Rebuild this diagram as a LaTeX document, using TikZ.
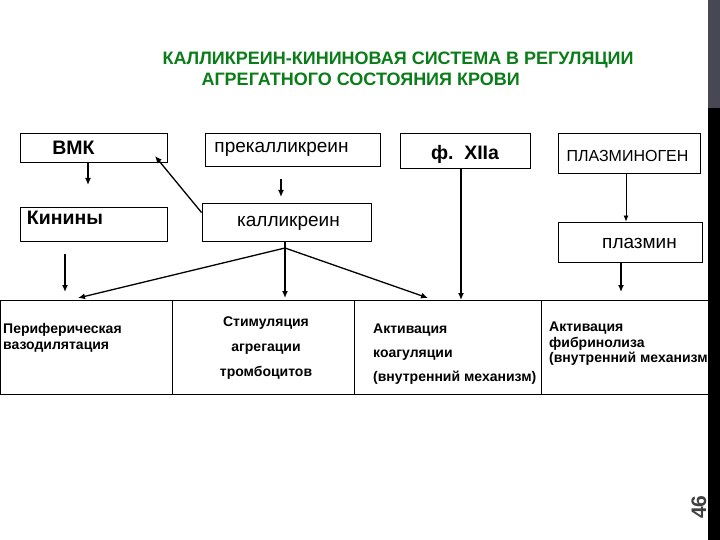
\documentclass[tikz,border=0pt]{standalone}
\usepackage{fontspec}
\setmainfont{Liberation Sans}
\usetikzlibrary{arrows.meta,positioning,calc}
\definecolor{titlegreen}{RGB}{10,125,25}
\definecolor{stripgray}{RGB}{72,72,84}

\begin{document}
\begin{tikzpicture}[x=1pt,y=-1pt,
  box/.style={draw,line width=0.8pt,inner sep=0pt},
  arr/.style={-{Latex[length=7pt,width=6pt]},line width=1.3pt},
  bigtxt/.style={font=\fontsize{19}{22}\selectfont},
  boldtxt/.style={font=\bfseries\fontsize{19.5}{22}\selectfont},
  cell/.style={font=\bfseries\fontsize{14}{16}\selectfont,inner sep=0pt}]
\useasboundingbox (0,0) rectangle (720,540);
\fill[stripgray] (708,0) rectangle (720,108);
\fill[black] (708,108) rectangle (720,540);
\node[rotate=90,font=\bfseries\fontsize{21}{21}\selectfont,text=black!75] (page) at (699,507) {46};

\node[anchor=west,font=\bfseries\fontsize{18}{20}\selectfont,text=titlegreen] (title1) at (159,60) {КАЛЛИКРЕИН-КИНИНОВАЯ СИСТЕМА В РЕГУЛЯЦИИ};
\node[anchor=west,font=\bfseries\fontsize{18}{20}\selectfont,text=titlegreen] (title2) at (198,79) {АГРЕГАТНОГО СОСТОЯНИЯ КРОВИ};

\node[box,minimum width=147pt,minimum height=29pt,label={[boldtxt,xshift=-20pt]center:ВМК}] (vmk) at (93.5,147.5) {};
\node[box,minimum width=147pt,minimum height=34pt,label={[boldtxt,xshift=-28.5pt,yshift=6pt]center:Кинины}] (kin) at (93.5,224) {};
\node[box,minimum width=175pt,minimum height=33pt,label={[bigtxt,xshift=-11pt]center:прекалликреин}] (prek) at (292.5,149.5) {};
\node[box,minimum width=169pt,minimum height=38pt,label={[bigtxt,xshift=2pt,yshift=-1.5pt]center:калликреин}] (kal) at (286.5,222) {};
\node[box,minimum width=130pt,minimum height=35pt,label={[boldtxt,xshift=0pt,yshift=-3.5pt]center:ф.\ \ XIIa}] (f12) at (465,150.5) {};
\node[box,minimum width=142pt,minimum height=40pt,label={[font=\fontsize{16}{18}\selectfont,xshift=-1.5pt,yshift=-2.5pt]center:ПЛАЗМИНОГЕН}] (plg) at (629,153) {};
\node[box,minimum width=144pt,minimum height=40pt,label={[bigtxt,xshift=9.5pt,yshift=-1pt]center:плазмин}] (plm) at (630,242) {};

\draw[line width=0.8pt] (0,300) -- (708,300);
\draw[line width=0.8pt] (0,394) -- (708,394);
\foreach \cx in {0.5,172,354,541}
  \draw[line width=0.8pt] (\cx,300) -- (\cx,394);

\node[cell,anchor=west,align=left] (perif) at (3,337.5) {Периферическая\\вазодилятация};
\node[cell,align=center,font=\bfseries\fontsize{14}{25}\selectfont] (stim) at (266,348) {Стимуляция\\агрегации\\тромбоцитов};
\node[cell,anchor=west,align=left,font=\bfseries\fontsize{14}{24}\selectfont] (koag) at (373,354) {Активация\\коагуляции\\(внутренний механизм)};
\node[cell,anchor=west,align=left,font=\bfseries\fontsize{14}{15.5}\selectfont] (fibr) at (549,344) {Активация\\фибринолиза\\(внутренний механизм};

\coordinate (a1) at (88,185);
\coordinate (a2s) at (281,179);
\coordinate (a2) at (281,197);
\coordinate (a3) at (155,156);
\coordinate (a4s) at (65,254);
\coordinate (a4) at (65,292);
\coordinate (split) at (285,248);
\coordinate (a5l) at (78,298);
\coordinate (a5m) at (285,298);
\coordinate (a5r) at (428,298);
\coordinate (a6) at (461,300);
\coordinate (a7) at (626,222);
\coordinate (a8) at (621,292);

\draw[arr] (a1 |- vmk.south) -- (a1);
\draw[arr] (a2s) -- (a2);
\draw[arr] ($(kal.north west)+(0,10)$) -- (a3);
\draw[arr] (a4s) -- (a4);
\draw[line width=1.3pt] (kal.south -| split) -- (split);
\draw[arr] (split) -- (a5l);
\draw[arr] (split) -- (a5m);
\draw[arr] (split) -- (a5r);
\draw[arr] (a6 |- f12.south) -- (a6);
\draw[-{Latex[length=6pt,width=5pt]},line width=0.8pt] (a7 |- plg.south) -- (a7 |- plm.north);
\draw[arr] (a8 |- plm.south) -- (a8);
\end{tikzpicture}
\end{document}
